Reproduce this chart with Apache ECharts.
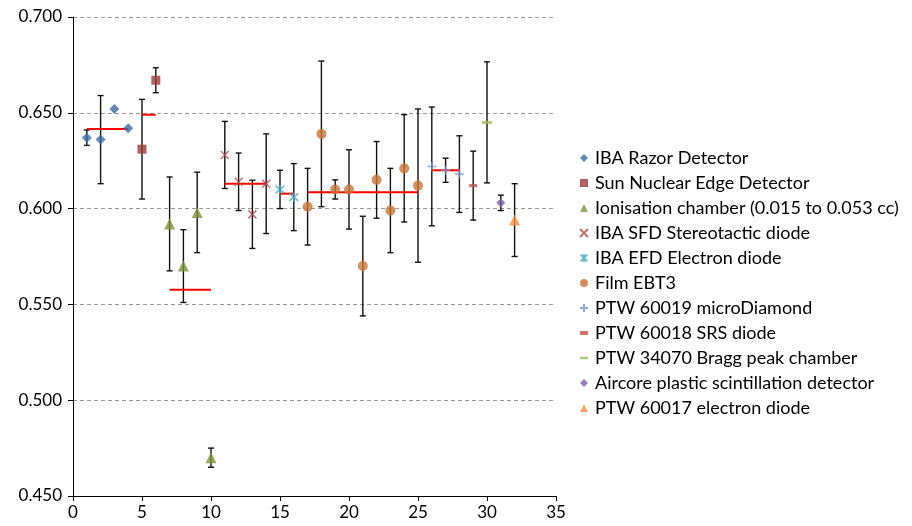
<!DOCTYPE html>
<html><head><meta charset="utf-8">
<script src="https://cdn.jsdelivr.net/npm/echarts@6/dist/echarts.min.js"></script>
<style>html,body{margin:0;padding:0;background:#fff}#c{width:912px;height:526px}</style>
</head><body><div id="c"></div>
<script>
// ---- data ----
const seriesNames = ['IBA Razor Detector','Sun Nuclear Edge Detector','Ionisation chamber (0.015 to 0.053 cc)','IBA SFD Stereotactic diode','IBA EFD Electron diode','Film EBT3','PTW 60019 microDiamond','PTW 60018 SRS diode','PTW 34070 Bragg peak chamber','Aircore plastic scintillation detector','PTW 60017 electron diode'];
const razorX = [1,2,3,4], razorY = [0.637,0.636,0.652,0.642], razorE = [0.004,0.023,0,0];
const edgeX = [5,6], edgeY = [0.631,0.667], edgeE = [0.026,0.0065];
const ionX = [7,8,9,10], ionY = [0.592,0.570,0.598,0.470], ionE = [0.0245,0.019,0.021,0.005];
const sfdX = [11,12,13,14], sfdY = [0.628,0.614,0.597,0.613], sfdE = [0.0175,0.015,0.0178,0.026];
const efdX = [15,16], efdY = [0.610,0.606], efdE = [0.010,0.0175];
const filmX = [17,18,19,20,21,22,23,24,25], filmY = [0.601,0.639,0.610,0.610,0.570,0.615,0.599,0.621,0.612], filmE = [0.020,0.038,0.005,0.0207,0.026,0.020,0.022,0.028,0.040];
const diaX = [26,27,28], diaY = [0.622,0.620,0.618], diaE = [0.031,0.0063,0.020];
const srsX = [29], srsY = [0.612], srsE = [0.018];
const braggX = [30], braggY = [0.645], braggE = [0.0316];
const airX = [31], airY = [0.603], airE = [0.004];
const e17X = [32], e17Y = [0.594], e17E = [0.019];
// group means: [xStart, xEnd, mean]
const meanLines = [[1,4,0.6415],[5,6,0.649],[7,10,0.5577],[11,14,0.613],[15,16,0.6078],[17,25,0.6085],[26,28,0.620]];
const yTicks = [0.45,0.70,0.05];
const xTicks = [0,35,5];

const groups = [
  [razorX,razorY,razorE],[edgeX,edgeY,edgeE],[ionX,ionY,ionE],[sfdX,sfdY,sfdE],[efdX,efdY,efdE],
  [filmX,filmY,filmE],[diaX,diaY,diaE],[srsX,srsY,srsE],[braggX,braggY,braggE],[airX,airY,airE],[e17X,e17Y,e17E]
];
const styles = [
  {symbol:'diamond', size:10, color:'#3E6BA3'},
  {symbol:'rect', size:9, color:'#983A38'},
  {symbol:'triangle', size:11, color:'#7A943E'},
  {symbol:'path://M0,0L10,10M10,0L0,10', size:8, color:'#B04E4E', stroke:true},
  {symbol:'path://M0,0L10,10M10,0L0,10M5,-1L5,11', size:9, color:'#4BA6C0', stroke:true},
  {symbol:'circle', size:10, color:'#C8763A'},
  {symbol:'path://M5,0L5,10M0,5L10,5', size:9, color:'#7297CD', stroke:true},
  {symbol:'rect', size:[8,3], color:'#C0504D', icon:'path://M0,0L6,0L6,3L0,3Z'},
  {symbol:'rect', size:[10,3], color:'#9BBB59', icon:'path://M0,0L10,0L10,3L0,3Z'},
  {symbol:'diamond', size:9, color:'#7B5FA1'},
  {symbol:'triangle', size:11, color:'#F4913F'}
];

const errData = [];
groups.forEach(g => g[0].forEach((x,i) => { if (g[2][i] > 0) errData.push([x, g[1][i]-g[2][i], g[1][i]+g[2][i]]); }));

const series = [];
series.push({
  type:'custom', name:'err', z:1, silent:true, data:errData,
  renderItem:(p, api) => {
    const x = api.value(0), a = api.coord([x, api.value(1)]), b = api.coord([x, api.value(2)]);
    const w = 3, st = {stroke:'#111', lineWidth:1.4};
    return {type:'group', children:[
      {type:'line', shape:{x1:a[0],y1:a[1],x2:b[0],y2:b[1]}, style:st},
      {type:'line', shape:{x1:a[0]-w,y1:a[1],x2:a[0]+w,y2:a[1]}, style:st},
      {type:'line', shape:{x1:b[0]-w,y1:b[1],x2:b[0]+w,y2:b[1]}, style:st}
    ]};
  }
});
series.push({
  type:'custom', name:'mean', z:2, silent:true, data:meanLines,
  renderItem:(p, api) => {
    const a = api.coord([api.value(0), api.value(2)]), b = api.coord([api.value(1), api.value(2)]);
    return {type:'line', shape:{x1:a[0],y1:a[1],x2:b[0],y2:b[1]}, style:{stroke:'#FF0000', lineWidth:2}};
  }
});
groups.forEach((g, k) => {
  const s = styles[k];
  series.push({
    type:'scatter', name:seriesNames[k], z:3,
    data:g[0].map((x,i) => [x, g[1][i]]),
    symbol:s.symbol, symbolSize:s.size,
    itemStyle: s.stroke ? {color:'rgba(0,0,0,0)', borderColor:s.color, borderWidth:1.5} : {color:s.color},
    emphasis:{disabled:true}
  });
});

const legendData = seriesNames.map((n, k) => styles[k].icon ? {name:n, icon:styles[k].icon} : {name:n});

const chart = echarts.init(document.getElementById('c'), null, {renderer:'canvas'});
chart.setOption({
  animation:false,
  textStyle:{fontFamily:'Lato'},
  grid:{left:73, right:356, top:17, bottom:30},
  legend:{
    orient:'vertical', left:574, top:144, itemWidth:8, itemHeight:8, itemGap:7, symbolKeepAspect:true,
    data:legendData,
    textStyle:{fontFamily:'Lato', fontSize:18, color:'#000', padding:[0,0,0,2]}
  },
  xAxis:{
    type:'value', min:xTicks[0], max:xTicks[1], interval:xTicks[2],
    axisLine:{onZero:false, lineStyle:{color:'#000', width:1}},
    axisTick:{show:true, length:5, lineStyle:{color:'#000'}},
    axisLabel:{fontSize:17, color:'#000', margin:8, fontFamily:'Lato'},
    splitLine:{show:false}
  },
  yAxis:{
    type:'value', min:yTicks[0], max:yTicks[1], interval:yTicks[2],
    axisLine:{show:true, onZero:false, lineStyle:{color:'#000', width:1}},
    axisTick:{show:true, length:5, lineStyle:{color:'#000'}},
    axisLabel:{fontSize:17, color:'#000', margin:11, fontFamily:'Lato', formatter:v => v.toFixed(3)},
    splitLine:{show:true, lineStyle:{color:'#9a9a9a', type:[4,3], width:1}}
  },
  series:series
});
</script></body></html>
